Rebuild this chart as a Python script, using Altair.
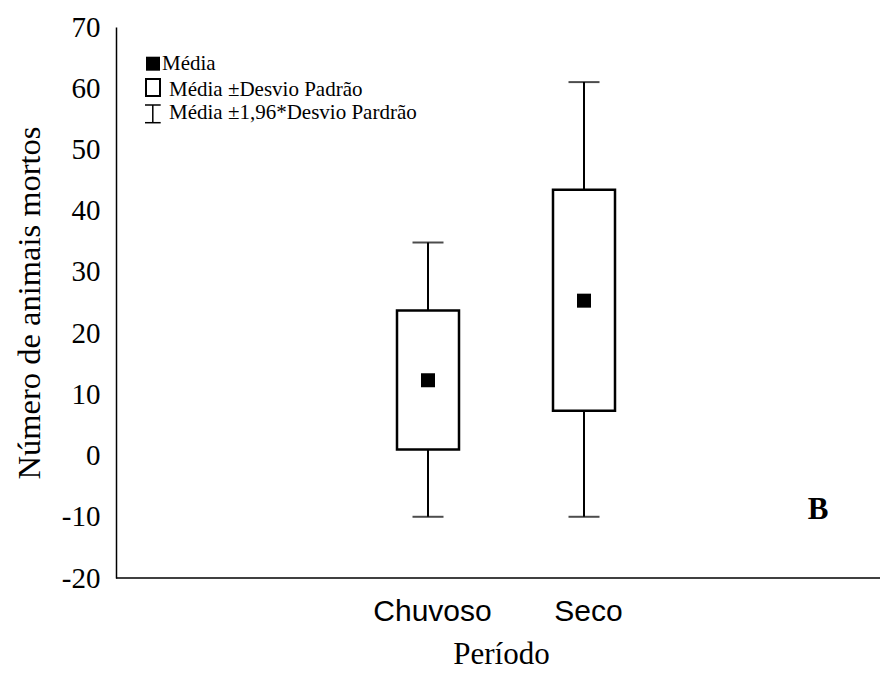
import altair as alt
import pandas as pd

# ---- data ----
periodo = ["Chuvoso", "Seco"]
media = [12.3, 25.3]
dp_inf = [1.0, 7.3]
dp_sup = [23.7, 43.4]
ic_inf = [-10.0, -10.0]
ic_sup = [34.8, 61.0]
y_ticks = [-20, -10, 0, 10, 20, 30, 40, 50, 60, 70]
legend_labels = ["Média", "Média ±Desvio Padrão", "Média ±1,96*Desvio Pardrão"]
painel = "B"

df = pd.DataFrame({
    "periodo": periodo,
    "media": media,
    "dp_inf": dp_inf,
    "dp_sup": dp_sup,
    "ic_inf": ic_inf,
    "ic_sup": ic_sup,
})

W, H = 764, 551
SERIF = "Liberation Serif"
SANS = "Liberation Sans"

x_enc = alt.X(
    "periodo:N",
    scale=alt.Scale(type="point", domain=periodo, range=[312, 468], padding=0),
    sort=periodo,
    axis=alt.Axis(
        title="Período", domain=False, ticks=False, tickSize=0, grid=False,
        labelFont=SANS, labelFontSize=30, labelColor="black", labelPadding=18,
        labelAngle=0, labelOffset=4,
        titleFont=SERIF, titleFontSize=31, titleFontWeight="normal",
        titleColor="black", titlePadding=13, titleX=385,
    ),
)

y_scale = alt.Scale(domain=[-20, 70], nice=False, zero=False)
y_axis = alt.Axis(
    title="Número de animais mortos", values=y_ticks, grid=False,
    ticks=False, tickSize=0, domainColor="black", domainWidth=1.5,
    labelExpr="datum.value < 0 ? '-' + abs(datum.value) : '' + datum.value",
    labelFont=SERIF, labelFontSize=29, labelColor="black", labelPadding=16,
    titleFont=SERIF, titleFontSize=32.5, titleFontWeight="normal",
    titleColor="black", titlePadding=15,
)

base = alt.Chart(df)

whisker = base.mark_rule(color="black", strokeWidth=2).encode(
    x=x_enc,
    y=alt.Y("ic_inf:Q", scale=y_scale, axis=y_axis),
    y2="ic_sup:Q",
)
cap_low = base.mark_tick(color="black", size=31, thickness=2, orient="horizontal").encode(
    x=alt.X("periodo:N"), y=alt.Y("ic_inf:Q")
)
cap_high = base.mark_tick(color="black", size=31, thickness=2, orient="horizontal").encode(
    x=alt.X("periodo:N"), y=alt.Y("ic_sup:Q")
)
box = base.mark_bar(size=62, fill="white", stroke="black", strokeWidth=2.5).encode(
    x=alt.X("periodo:N"), y=alt.Y("dp_inf:Q"), y2="dp_sup:Q"
)
mean = base.mark_square(size=196, color="black", opacity=1, strokeWidth=0).encode(
    x=alt.X("periodo:N"), y=alt.Y("media:Q")
)

one = pd.DataFrame({"k": [0]})
x_baseline = alt.Chart(one).mark_rule(color="black", strokeWidth=1.5).encode(
    x=alt.value(0), x2=alt.value(W), y=alt.value(H)
)

# ---- manual legend ----
leg_sq = alt.Chart(one).mark_square(size=196, color="black", opacity=1, strokeWidth=0).encode(
    x=alt.value(37), y=alt.value(36.7)
)
leg_box = alt.Chart(one).mark_rect(fill="white", stroke="black", strokeWidth=2).encode(
    x=alt.value(30), x2=alt.value(44), y=alt.value(52), y2=alt.value(69)
)
leg_i_v = alt.Chart(one).mark_rule(color="black", strokeWidth=1.5).encode(
    x=alt.value(36.8), y=alt.value(78), y2=alt.value(95.7)
)
leg_i_t = alt.Chart(one).mark_rule(color="black", strokeWidth=1.5).encode(
    x=alt.value(29), x2=alt.value(44.7), y=alt.value(78)
)
leg_i_b = alt.Chart(one).mark_rule(color="black", strokeWidth=1.5).encode(
    x=alt.value(29), x2=alt.value(44.7), y=alt.value(95.7)
)

leg_pos = [(46, 42.5), (53, 68.7), (53, 92)]
leg_texts = []
for lab, (lx, ly) in zip(legend_labels, leg_pos):
    leg_texts.append(
        alt.Chart(pd.DataFrame({"label": [lab]})).mark_text(
            font=SERIF, fontSize=21, align="left", baseline="alphabetic", color="black"
        ).encode(text="label:N", x=alt.value(lx), y=alt.value(ly))
    )

panel_txt = alt.Chart(pd.DataFrame({"label": [painel]})).mark_text(
    font=SERIF, fontSize=31, fontWeight="bold", align="center",
    baseline="alphabetic", color="black"
).encode(text="label:N", x=alt.value(702), y=alt.value(492))

chart = alt.layer(
    whisker, cap_low, cap_high, box, mean, x_baseline,
    leg_sq, leg_box, leg_i_v, leg_i_t, leg_i_b, *leg_texts, panel_txt,
).properties(
    width=W, height=H,
    autosize=alt.AutoSizeParams(type="none"),
    padding={"left": 108, "top": 19, "right": 0, "bottom": 95},
    background="white",
).configure_view(stroke=None)

chart.save("out.html", embed_options={"renderer": "svg", "actions": False})
